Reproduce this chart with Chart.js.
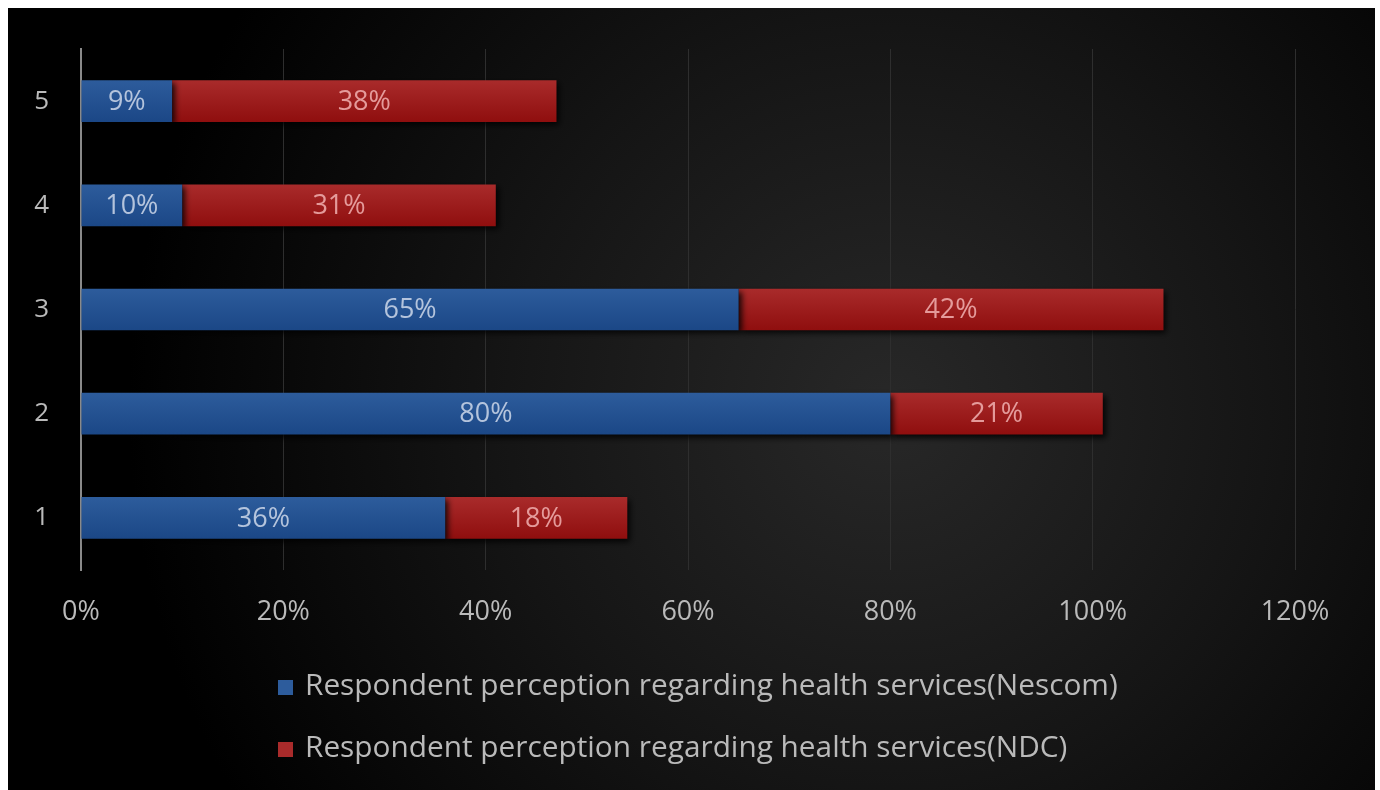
<!DOCTYPE html>
<html>
<head>
<meta charset="utf-8">
<script src="https://cdn.jsdelivr.net/npm/chart.js@4"></script>
<style>
  html, body { margin: 0; padding: 0; background: #fff; }
  #wrap { position: absolute; left: 8px; top: 8px; width: 1367px; height: 782px; background: #000; }
</style>
</head>
<body>
<div id="wrap"><canvas id="chart" width="1367" height="782"></canvas></div>
<script>
const categories = ["1", "2", "3", "4", "5"];
const nescom = [36, 80, 65, 10, 9];
const ndc = [18, 21, 42, 31, 38];
const seriesNames = [
  "Respondent perception regarding health services(Nescom)",
  "Respondent perception regarding health services(NDC)"
];
const blueStops = ["#2d5c9c", "#1b4786"];
const redStops = ["#a92b2b", "#8f0e0e"];
const xTicks = [0, 20, 40, 60, 80, 100, 120];

const FONT = "'Open Sans', sans-serif";
const TEXT = "#bababa";

// vertical gradient across one bar, from the category scale position
function barFill(stops) {
  return (ctx) => {
    const chart = ctx.chart;
    const y = chart.scales.y;
    if (!y || ctx.dataIndex === undefined) return stops[0];
    const c = y.getPixelForValue(ctx.dataIndex);
    if (!Number.isFinite(c)) return stops[0];
    const g = chart.ctx.createLinearGradient(0, c - 21, 0, c + 21);
    g.addColorStop(0, stops[0]);
    g.addColorStop(1, stops[1]);
    return g;
  };
}

const background = {
  id: "background",
  beforeDraw(chart) {
    const { ctx, width, height } = chart;
    ctx.save();
    const g = ctx.createRadialGradient(880, 400, 0, 880, 400, 760);
    g.addColorStop(0, "#282828");
    g.addColorStop(0.5, "#151515");
    g.addColorStop(1, "#000000");
    ctx.fillStyle = g;
    ctx.fillRect(0, 0, width, height);
    ctx.restore();
  }
};

const barShadow = {
  id: "barShadow",
  beforeDatasetsDraw(chart) {
    const ctx = chart.ctx;
    ctx.save();
    ctx.shadowColor = "rgba(0,0,0,0.85)";
    ctx.shadowBlur = 6;
    ctx.shadowOffsetX = 3;
    ctx.shadowOffsetY = 3;
  },
  afterDatasetsDraw(chart) {
    chart.ctx.restore();
  }
};

const valueLabels = {
  id: "valueLabels",
  afterDatasetsDraw(chart) {
    const ctx = chart.ctx;
    ctx.save();
    ctx.font = "27px " + FONT;
    ctx.textAlign = "center";
    ctx.textBaseline = "middle";
    chart.data.datasets.forEach((ds, i) => {
      const meta = chart.getDatasetMeta(i);
      ctx.fillStyle = i === 0 ? "rgba(196,208,228,0.9)" : "rgba(236,168,168,0.9)";
      meta.data.forEach((bar, j) => {
        const cx = (bar.x + bar.base) / 2;
        ctx.fillText(ds.data[j] + "%", cx, bar.y + 1);
      });
    });
    ctx.restore();
  }
};

const sideLegend = {
  id: "sideLegend",
  afterDraw(chart) {
    const ctx = chart.ctx;
    ctx.save();
    ctx.font = "29.8px " + FONT;
    ctx.textBaseline = "middle";
    const swatch = [blueStops[0], redStops[0]];
    chart.data.datasets.forEach((ds, i) => {
      const y = 679 + i * 62;
      ctx.fillStyle = swatch[i];
      ctx.fillRect(270, y - 7, 15, 15);
      ctx.fillStyle = TEXT;
      ctx.fillText(ds.label, 297, y);
    });
    ctx.restore();
  }
};

new Chart(document.getElementById("chart"), {
  type: "bar",
  data: {
    labels: categories,
    datasets: [
      { label: seriesNames[0], data: nescom, backgroundColor: barFill(blueStops) },
      { label: seriesNames[1], data: ndc, backgroundColor: barFill(redStops) }
    ]
  },
  options: {
    indexAxis: "y",
    responsive: false,
    animation: false,
    devicePixelRatio: 1,
    layout: { padding: { top: 41, right: 80, left: 0, bottom: 0 } },
    datasets: { bar: { categoryPercentage: 1, barPercentage: 0.4 } },
    plugins: { legend: { display: false }, tooltip: { enabled: false } },
    scales: {
      x: {
        stacked: true,
        min: 0,
        max: 120,
        afterBuildTicks(s) { s.ticks = xTicks.map(v => ({ value: v })); },
        afterFit(s) { s.height = 220; },
        border: { display: false },
        grid: {
          drawTicks: false,
          color: ctx => ctx.index === 0 ? "rgba(0,0,0,0)" : "#2e2e2e",
          lineWidth: 1
        },
        ticks: {
          padding: 26,
          color: TEXT,
          font: { size: 27, family: FONT },
          callback: v => v + "%"
        }
      },
      y: {
        stacked: true,
        reverse: true,
        afterFit(s) {
          s.width = 73;
          s.paddingTop = 0;
          s.paddingBottom = 0;
        },
        border: { display: true, color: "#8a8a8a", width: 2 },
        grid: { display: false, drawTicks: false },
        ticks: {
          padding: 32,
          color: TEXT,
          font: { size: 26, family: FONT }
        }
      }
    }
  },
  plugins: [background, barShadow, valueLabels, sideLegend]
});
</script>
</body>
</html>
